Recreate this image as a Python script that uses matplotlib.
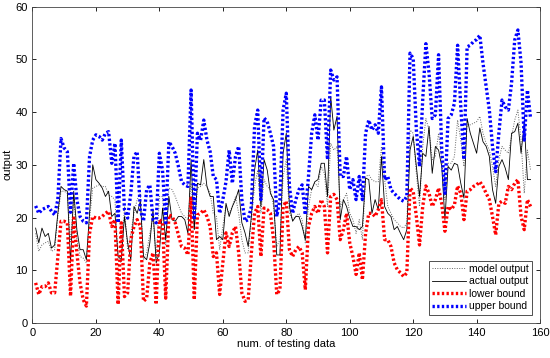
import numpy as np
import matplotlib.pyplot as plt

plt.rcParams['font.family'] = ['Liberation Sans', 'DejaVu Sans']

# values, samples 1..157
actual = [18, 15.2, 18, 16.4, 17, 14.2, 14.8, 20.8, 25.9, 25.3, 25, 11.4, 25, 17.7, 13.9, 13.9, 12, 20.8, 30, 27.2,
          26.5, 25.6, 24, 25, 20.2, 20.8, 12.6, 12, 20.2, 15.2, 12, 22.1, 20.8, 23.1, 12.6, 12, 15.2, 21.5, 11.4, 13.3,
          21.8, 15.8, 24, 19.6, 19.3, 20.2, 20.2, 19.6, 17, 31, 17.7, 26.5, 26.2, 31, 25.9, 24, 24, 15.8, 16.4, 15.8,
          22.7, 20.2, 22.1, 23.4, 25.3, 19, 17.1, 14.5, 20.2, 29, 32.8, 22.1, 31, 29, 24.6, 23.4, 12.9, 12.9, 32.2, 36,
          22.1, 19.3, 20.2, 20.2, 18.3, 15.8, 25.9, 25.3, 26.8, 27.2, 30.3, 30.3, 24, 43, 36.6, 39.2, 19.6, 23.4, 22.1, 19.9,
          18.3, 18.3, 17.7, 18.3, 27.5, 27.2, 20.8, 23.4, 21.5, 31.6, 22.1, 20.8, 20.2, 17.7, 18.3, 17, 15.8, 17.7, 32.8, 35.4,
          29.7, 24, 32.2, 31.6, 37.3, 28.4, 33.5, 32.8, 29.7, 19.6, 29.7, 29, 30.3, 30, 26.5, 23.7, 38.8, 36, 34.1, 32.2,
          37, 34.4, 33.5, 31.6, 25.3, 22.7, 29.7, 31, 29.4, 27.2, 36, 36.3, 37.9, 32.2, 37.9, 27.2, 27.2]

model = [17, 13.6, 14.8, 15.2, 15.5, 13.6, 13.9, 20.2, 25, 25, 24.6, 15.2, 24, 15.8, 12.6, 12.3, 11.4, 19.6, 25.6, 25.9,
         26.2, 25.9, 25.9, 24.3, 24, 23.4, 12, 11.4, 22.1, 13.9, 17, 20.8, 23.4, 24.6, 12, 13.3, 17, 20.2, 12, 24,
         24, 14.8, 25.6, 25.3, 24, 22.4, 20.8, 20.2, 19.6, 26.5, 17.7, 25.6, 25.9, 26.5, 25.9, 24.6, 20.8, 20.2, 13.9, 18.3,
         22.1, 20.8, 22.1, 24, 20.8, 15.8, 13.3, 13.3, 19.6, 25.9, 29, 20.8, 27.2, 25.9, 25.3, 22.1, 14.5, 15.8, 27.8, 31,
         20.8, 19.6, 20.2, 20.8, 19.6, 15.2, 22.1, 25.3, 26.5, 25.9, 29.7, 28.4, 22.1, 34.1, 32.8, 33.5, 22.1, 23.4, 24.6, 20.8,
         19.6, 17, 19.6, 15.8, 27.8, 28.1, 27.2, 26.8, 26.8, 33.5, 27.2, 22.1, 20.8, 19.6, 19, 18.3, 18, 19, 36.6, 36,
         28.4, 22.1, 33.5, 38.8, 36.6, 31, 31.6, 36, 31, 23.4, 30.3, 30.3, 31.6, 38.5, 34.7, 29.7, 37.6, 37.6, 37.9, 38.2,
         39.2, 36, 34.1, 32.8, 29.7, 25.9, 31, 33.5, 32.8, 32.2, 35.4, 38.5, 40.4, 34.7, 24.6, 32.8, 29]

lower = [7.6, 5.4, 6.9, 6.9, 7.6, 5.7, 5.7, 12.6, 19.3, 19.3, 19, 5.1, 19.9, 13.3, 7.6, 4.4, 3.2, 17, 20.2, 19.9,
         19.9, 20.2, 20.8, 21.2, 18.3, 19.6, 3.5, 19, 5, 5.7, 15.8, 18.3, 19.6, 18.3, 4.1, 4.7, 11.4, 13.3, 3.5, 19.6,
         19, 4.7, 20.5, 20.2, 19, 16.7, 14.5, 14.2, 12.9, 23.7, 4.4, 20.5, 20.8, 21.5, 20.2, 18.3, 12.6, 13.3, 5.4, 11.4,
         17.1, 14.5, 17.1, 18.3, 13.3, 5.7, 4.1, 4.4, 13.3, 20.8, 22.1, 12.6, 21.8, 21.5, 20.8, 15.8, 5.4, 6.3, 22.1, 23.1,
         13.9, 12.6, 13.9, 14.5, 13.3, 6.3, 18.3, 20.8, 22.1, 20.8, 23.4, 22.1, 13.3, 24, 24.4, 23.4, 15.8, 17.7, 20.8, 15.2,
         12.6, 9.2, 13.3, 8.2, 17, 20.8, 20.8, 20.2, 21.5, 23.4, 15.8, 15.8, 14.5, 11.4, 10.1, 9.5, 8.8, 9.5, 25.6, 25,
         20.2, 14.8, 22.1, 26, 24.6, 22.1, 23.4, 25.6, 22.6, 17.4, 22.1, 21.5, 22.4, 26, 24.6, 19.6, 25, 25.3, 25.9, 26.2,
         26.8, 25.9, 24.6, 23.4, 20.2, 16.7, 22.7, 23.1, 22.7, 25.9, 25.3, 26.5, 27.2, 20.2, 17.7, 23.4, 22.1]

upper = [22.2, 20.8, 21.5, 21.8, 22.1, 21.2, 20.5, 23.4, 35, 33.2, 32.5, 21, 30.3, 23.4, 20.2, 19.3, 19, 31.6, 34.7, 35.7,
         35.4, 34.7, 36, 36.3, 30.3, 34.1, 19, 34.7, 21.5, 19.9, 24.6, 31.6, 32.5, 21.5, 19.3, 25.3, 26.2, 19.6, 19, 32.2,
         29, 19, 34.4, 33.5, 32.2, 29.7, 26.8, 26.2, 25.9, 44.2, 19.6, 36, 34.7, 38.5, 34.7, 32.5, 27.8, 27.2, 20.8, 23.4,
         26.8, 32.8, 26.5, 31.6, 33.5, 23.4, 19.3, 19.6, 22.1, 37.3, 40.4, 23.4, 38.9, 38.2, 36, 33.5, 20.2, 23.4, 40.4, 43.6,
         25.9, 20.8, 23.4, 25.3, 26.2, 20.5, 27.8, 36, 39.5, 34.7, 42.3, 42.3, 31, 48, 46.1, 46.7, 27.8, 27.8, 31.6, 25.3,
         27.2, 23.4, 27.8, 23.4, 36, 38.5, 36.6, 37.6, 36, 44.8, 27.2, 27.8, 25.3, 24.6, 24, 23.4, 23.1, 24, 51.2, 50.2,
         36.6, 29.7, 42.3, 53, 47.4, 38.8, 39.5, 50.9, 32.8, 24.6, 38.8, 39.5, 41.7, 52.7, 41, 31, 52.4, 52.7, 53.4, 53.8,
         54.6, 49.3, 44.8, 40.4, 33.5, 28.7, 36, 42.3, 41, 40.4, 45.5, 53.7, 55.6, 49.3, 34.7, 44.2, 38.8]

n = np.arange(1, len(actual) + 1)

fig, ax = plt.subplots(figsize=(5.5, 3.58), dpi=100)
fig.subplots_adjust(left=0.059, right=0.982, bottom=0.098, top=0.981)

ax.plot(n, model, color='#666666', linewidth=0.7, dashes=(1, 1.5), label='model output')
ax.plot(n, actual, '-', color='black', linewidth=0.6, label='actual output')
ax.plot(n, lower, color='red', linewidth=2.4, dashes=(0.7, 0.7), label='lower bound')
ax.plot(n, upper, color='blue', linewidth=2.4, dashes=(0.7, 0.7), label='upper bound')

ax.set_xlim(0, 160)
ax.set_ylim(0, 60)
ax.set_xticks(np.arange(0, 161, 20))
ax.set_yticks(np.arange(0, 61, 10))
ax.tick_params(direction='in', top=True, right=True, labelsize=8, length=3, width=0.6)
for s in ax.spines.values():
    s.set_linewidth(0.6)
    s.set_color('#444444')

ax.set_xlabel('num. of testing data', fontsize=8, labelpad=1)
ax.set_ylabel('output', fontsize=8, labelpad=2)

leg = ax.legend(loc='lower right', fontsize=7.5, fancybox=False, edgecolor='black',
                handlelength=3.2, borderpad=0.3, labelspacing=0.25, handletextpad=0.3,
                borderaxespad=0.8)
leg.get_frame().set_linewidth(0.6)

fig.savefig('out.png', dpi=100)
